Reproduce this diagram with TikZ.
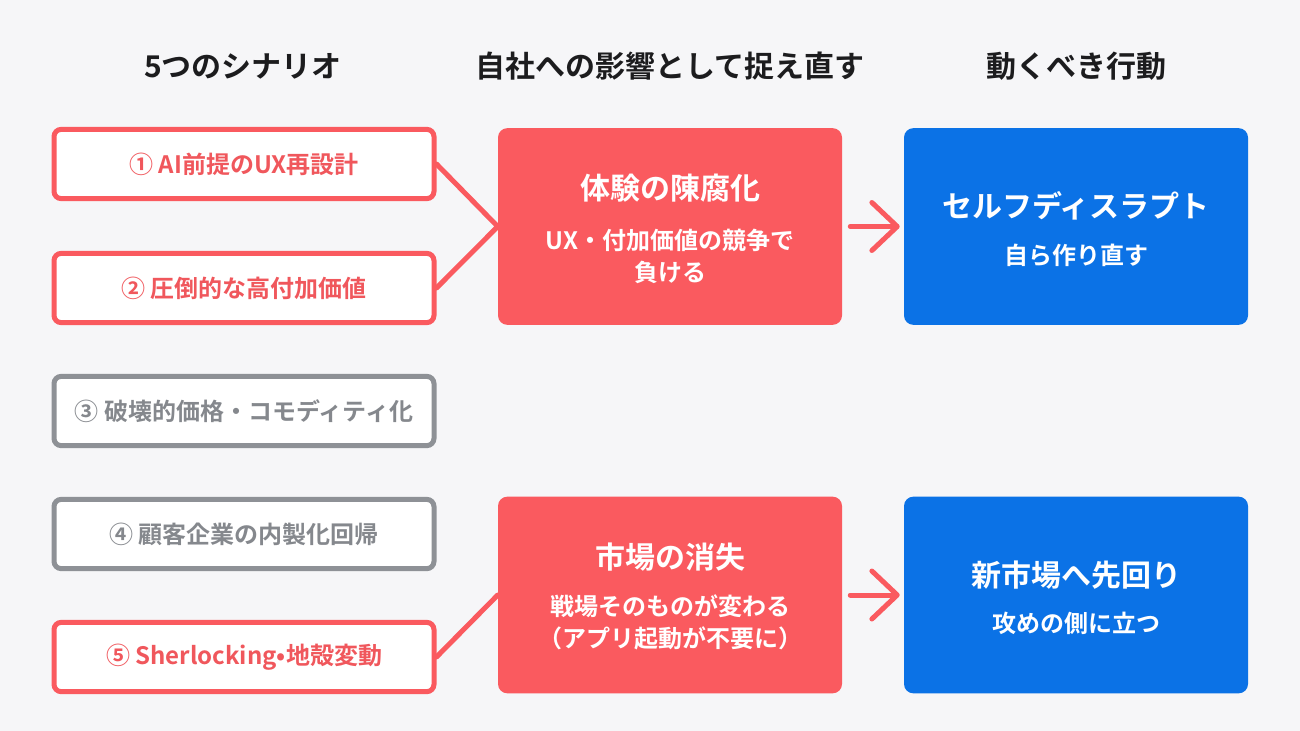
\documentclass[tikz,border=0pt]{standalone}
\usepackage{fontspec}
\setmainfont{Noto Sans CJK JP}[BoldFont={Noto Sans CJK JP Bold}]
\usetikzlibrary{arrows.meta}
\definecolor{bgc}{HTML}{F6F6F8}
\definecolor{redc}{HTML}{FA5A5F}
\definecolor{redt}{HTML}{F0575C}
\definecolor{bluec}{HTML}{0B72E6}
\definecolor{grayb}{HTML}{8E9196}
\definecolor{grayt}{HTML}{85888D}
\definecolor{headc}{HTML}{1C1C1E}
\tikzset{
  head/.style={font=\bfseries\fontsize{22.5pt}{27pt}\selectfont, text=headc},
  scen/.style={draw, line width=3.75pt, fill=white, rounded corners=5.5pt, minimum width=285pt, minimum height=52pt, font=\bfseries\fontsize{18pt}{22pt}\selectfont},
  scenred/.style={scen, draw=redc, text=redt},
  scengray/.style={scen, draw=grayb, text=grayt},
  bigbox/.style={rounded corners=7pt, minimum width=258pt, minimum height=147.5pt},
  impact/.style={bigbox, fill=redc},
  action/.style={bigbox, fill=bluec},
  ttl/.style={text=white, font=\bfseries\fontsize{22.5pt}{27pt}\selectfont},
  sub/.style={text=white, font=\bfseries\fontsize{18pt}{24pt}\selectfont, align=center},
  link/.style={draw=redc, line width=3.75pt, line cap=round},
  arr/.style={draw=redc, line width=3.75pt, line cap=round, -{Straight Barb[length=19pt, width=36pt, round]}}
}
\begin{document}
\begin{tikzpicture}[x=0.75pt, y=-0.75pt]
\fill[bgc] (0,0) rectangle (1300,731);
\useasboundingbox (0,0) rectangle (1300,731);
% headings
\node[head] (h1) at (243,66) {5つのシナリオ};
\node[head] (h2) at (670,66) {自社への影響として捉え直す};
\node[head] (h3) at (1076,66) {動くべき行動};
% scenarios
\node[scenred] (s1) at (244,164) {① AI前提のUX再設計};
\node[scenred] (s2) at (244,288) {② 圧倒的な高付加価値};
\node[scengray] (s3) at (244,411) {③ 破壊的価格・コモディティ化};
\node[scengray] (s4) at (244,534) {④ 顧客企業の内製化回帰};
\node[scenred] (s5) at (244,657) {⑤ Sherlocking•地殻変動};
% impacts
\node[impact] (m1) at (670,226.5) {};
\node[ttl] (m1t) at (670,188) {体験の陳腐化};
\node[sub] (m1s) at (670,256) {UX・付加価値の競争で\\負ける};
\node[impact] (m2) at (670,595) {};
\node[ttl] (m2t) at (670,557) {市場の消失};
\node[sub] (m2s) at (670,622) {戦場そのものが変わる\\（アプリ起動が不要に）};
% actions
\node[action] (r1) at (1076,226.5) {};
\node[ttl] (r1t) at (1076,206) {セルフディスラプト};
\node[sub] (r1s) at (1076,255) {自ら作り直す};
\node[action] (r2) at (1076,595) {};
\node[ttl] (r2t) at (1076,575) {新市場へ先回り};
\node[sub] (r2s) at (1076,623) {攻めの側に立つ};
% connectors
\draw[link] (s1.east) -- (m1.west);
\draw[link] (s2.east) -- (m1.west);
\draw[link] (s5.east) -- (m2.west);
\draw[arr] ([xshift=6pt]m1.east) -- ([xshift=-3pt]r1.west);
\draw[arr] ([xshift=6pt]m2.east) -- ([xshift=-3pt]r2.west);
\end{tikzpicture}
\end{document}
